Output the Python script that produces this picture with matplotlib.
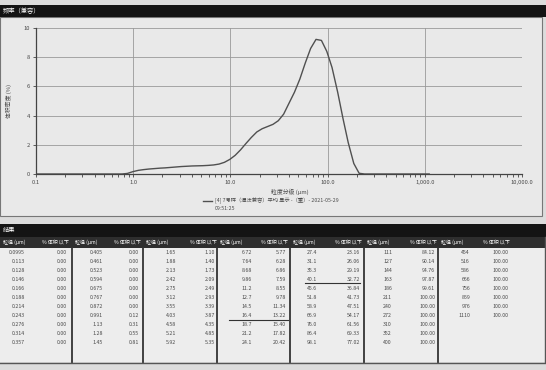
import numpy as np
import matplotlib
matplotlib.use('Agg')
import matplotlib.pyplot as plt
from matplotlib.patches import Rectangle
from matplotlib.lines import Line2D
from matplotlib.ticker import FixedLocator, NullFormatter

plt.rcParams['font.family'] = ['Noto Sans CJK SC', 'DejaVu Sans']

# 结果表 (粒径 μm / % 体积以下)
size_cols = [
    ['0.0995', '0.113', '0.128', '0.146', '0.166', '0.188', '0.214', '0.243', '0.276', '0.314', '0.357'],
    ['0.405', '0.461', '0.523', '0.594', '0.675', '0.767', '0.872', '0.991', '1.13', '1.28', '1.45'],
    ['1.65', '1.88', '2.13', '2.42', '2.75', '3.12', '3.55', '4.03', '4.58', '5.21', '5.92'],
    ['6.72', '7.64', '8.68', '9.86', '11.2', '12.7', '14.5', '16.4', '18.7', '21.2', '24.1'],
    ['27.4', '31.1', '35.3', '40.1', '45.6', '51.8', '58.9', '66.9', '76.0', '86.4', '98.1'],
    ['111', '127', '144', '163', '186', '211', '240', '272', '310', '352', '400'],
    ['454', '516', '586', '666', '756', '859', '976', '1110'],
]
cum_cols = [
    ['0.00'] * 11,
    ['0.00', '0.00', '0.00', '0.00', '0.00', '0.00', '0.00', '0.12', '0.31', '0.55', '0.81'],
    ['1.10', '1.40', '1.73', '2.09', '2.49', '2.93', '3.39', '3.87', '4.35', '4.85', '5.35'],
    ['5.77', '6.28', '6.86', '7.59', '8.55', '9.78', '11.34', '13.22', '15.40', '17.82', '20.42'],
    ['23.16', '26.06', '29.19', '32.72', '36.84', '41.73', '47.51', '54.17', '61.56', '69.33', '77.02'],
    ['84.12', '90.14', '94.76', '97.87', '99.61', '100.00', '100.00', '100.00', '100.00', '100.00', '100.00'],
    ['100.00'] * 8,
]

# 频率曲线 (体积密度 %), 按表中粒径读取
density = [
    0, 0, 0, 0, 0, 0, 0, 0, 0, 0, 0,
    0, 0, 0, 0, 0, 0.0, 0.04, 0.16, 0.25, 0.30, 0.34,
    0.37, 0.40, 0.42, 0.45, 0.48, 0.51, 0.53, 0.55, 0.56, 0.57, 0.59,
    0.62, 0.68, 0.80, 1.00, 1.28, 1.65, 2.10, 2.50, 2.88, 3.10, 3.25,
    3.40, 3.65, 4.10, 4.85, 5.60, 6.50, 7.60, 8.60, 9.22, 9.15, 8.40,
    7.30, 5.60, 3.80, 2.15, 0.72, 0.05, 0, 0, 0, 0, 0,
    0, 0, 0, 0, 0, 0, 0, 0,
]
sizes = [float(s) for col in size_cols for s in col]

x_ticks = [0.1, 1, 10, 100, 1000, 10000]
x_ticklabels = ['0.1', '1.0', '10.0', '100.0', '1,000.0', '10,000.0']
y_ticks = [0, 2, 4, 6, 8, 10]

W, H = 546, 370
fig = plt.figure(figsize=(W / 100, H / 100), dpi=100)
fig.patch.set_facecolor('#dcdcdc')


def fy(py):
    return 1 - py / H


def fx(px):
    return px / W


def rect(x0, y0, x1, y1, **kw):
    fig.patches.append(Rectangle((fx(x0), fy(y1)), fx(x1) - fx(x0), fy(y0) - fy(y1),
                                 transform=fig.transFigure, zorder=-1, **kw))


def hline(x0, x1, y, **kw):
    fig.lines.append(Line2D([fx(x0), fx(x1)], [fy(y), fy(y)], transform=fig.transFigure, **kw))


def vline(x, y0, y1, **kw):
    fig.lines.append(Line2D([fx(x), fx(x)], [fy(y0), fy(y1)], transform=fig.transFigure, **kw))


txt = '#4a4a4a'

# 频率面板
rect(0, 17, 542, 216, facecolor='#e9e9e9', edgecolor='#777777', lw=0.8)
rect(0, 5, 546, 17, facecolor='#141414', edgecolor='none')
fig.text(fx(3), fy(11), '频率（兼容）', color='white', fontsize=4.5, va='center', ha='left')

ax = fig.add_axes([fx(36), fy(174), fx(522) - fx(36), fy(28) - fy(174)])
ax.set_zorder(2)
ax.set_facecolor('none')
ax.plot(sizes, density, color='#505050', lw=1.0)
ax.set_xscale('log')
ax.set_xlim(0.1, 10000)
ax.set_ylim(0, 10)
ax.set_xticks(x_ticks)
ax.set_xticklabels(x_ticklabels)
ax.xaxis.set_minor_locator(FixedLocator([m * 10.0 ** e for e in range(-1, 4) for m in range(2, 10)]))
ax.xaxis.set_minor_formatter(NullFormatter())
ax.set_yticks(y_ticks)
ax.tick_params(axis='both', labelsize=4.2, colors='#444444', labelcolor=txt, width=0.6, length=2.5, pad=2)
ax.tick_params(axis='x', which='minor', length=1.8, width=0.6, colors='#444444')
ax.grid(True, which='major', color='#9a9a9a', lw=0.6)
for s in ['top', 'right']:
    ax.spines[s].set_visible(False)
for s in ['left', 'bottom']:
    ax.spines[s].set_color('#444444')
    ax.spines[s].set_linewidth(0.9)
ax.set_ylabel('体积密度 (%)', fontsize=4.2, color=txt, labelpad=8)

fig.text(fx(290), fy(192), '粒度分级 (μm)', fontsize=4.2, color=txt, ha='center', va='center')
hline(203, 212, 201, color='#505050', lw=1.0)
fig.text(fx(215), fy(201), '[4] 7号样（湿法兼容）平均 显示 -（重）- 2021-05-29', fontsize=3.8,
         color=txt, ha='left', va='center')
fig.text(fx(215), fy(209), '09:51:25', fontsize=3.8, color=txt, ha='left', va='center')

# 结果表
rect(0, 224, 546, 237, facecolor='#141414', edgecolor='none')
fig.text(fx(3), fy(230.5), '结果', color='white', fontsize=4.5, va='center', ha='left')
rect(0, 237, 546, 248, facecolor='#2e2e2e', edgecolor='none')
rect(0, 248, 545, 362, facecolor='#ededed', edgecolor='none')
hline(0, 545, 362.5, color='#555555', lw=1.0)

col_left = [0, 72, 143, 217, 290, 364, 438]
size_right = [25, 103, 176, 252, 317, 392, 470]
cum_right = [67, 139, 215, 286, 360, 435, 508]

for c in range(len(size_cols)):
    fig.text(fx(col_left[c] + 3), fy(242.5), '粒径 (μm)', color='white', fontsize=3.6,
             ha='left', va='center')
    fig.text(fx(cum_right[c] + 2), fy(242.5), '% 体积 以下', color='white', fontsize=3.6,
             ha='right', va='center')
    for i, (s, p) in enumerate(zip(size_cols[c], cum_cols[c])):
        y = 252.3 + 9.03 * i
        fig.text(fx(size_right[c]), fy(y), s, fontsize=3.8, color=txt, ha='right', va='center')
        fig.text(fx(cum_right[c]), fy(y), p, fontsize=3.8, color=txt, ha='right', va='center')

for x in col_left[1:]:
    vline(x, 248, 362, color='#333333', lw=1.3)
vline(545, 237, 362, color='#555555', lw=1.0)

# 手写划线
hline(305, 360, 283, color='#333333', lw=0.8)
hline(229, 288, 319.5, color='#333333', lw=0.8)

fig.savefig('out.png', dpi=100, facecolor=fig.get_facecolor())
